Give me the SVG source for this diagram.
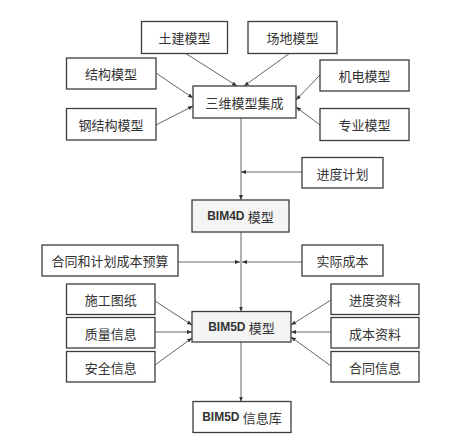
<svg xmlns="http://www.w3.org/2000/svg" width="450" height="442" viewBox="0 0 450 442">
<style>
.box{fill:#ffffff;stroke:#3c3c3c;stroke-width:1.3}
.gbox{fill:#f4f4f4;stroke:#3c3c3c;stroke-width:1.3}
.t{font-family:"Noto Sans CJK SC","Noto Sans CJK JP",sans-serif;font-size:13px;fill:#333333;text-anchor:middle;dominant-baseline:central}
.b{font-family:"Liberation Sans","Noto Sans CJK SC",sans-serif;font-size:12px;font-weight:bold;fill:#333333;text-anchor:middle;dominant-baseline:central}
.c{fill:none;stroke:#666666;stroke-width:1;marker-end:url(#ah)}
</style>
<defs>
<marker id="ah" markerUnits="userSpaceOnUse" markerWidth="5" markerHeight="5" viewBox="0 0 5 5" refX="5" refY="2.5" orient="auto">
<path d="M0,0.5 L5,2.5 L0,4.5 Z" fill="#333333"/>
</marker>
</defs>
<rect width="450" height="442" fill="#ffffff"/>
<g id="connectors">
<line class="c" x1="185" y1="53" x2="237" y2="86"/>
<line class="c" x1="290" y1="53" x2="244" y2="86"/>
<line class="c" x1="156" y1="73" x2="193" y2="98"/>
<line class="c" x1="156" y1="125" x2="193" y2="106"/>
<line class="c" x1="320" y1="75" x2="296" y2="100"/>
<line class="c" x1="320" y1="125" x2="296" y2="107"/>
<line class="c" x1="241" y1="118" x2="241" y2="200"/>
<line class="c" x1="302" y1="172" x2="241" y2="172"/>
<line class="c" x1="241" y1="232" x2="241" y2="311.5"/>
<line class="c" x1="178" y1="262" x2="240" y2="262"/>
<line class="c" x1="302" y1="262" x2="242" y2="262"/>
<line class="c" x1="155" y1="301" x2="192" y2="325"/>
<line class="c" x1="155" y1="332" x2="192" y2="332"/>
<line class="c" x1="155" y1="365" x2="192" y2="338"/>
<line class="c" x1="331" y1="300" x2="291" y2="325"/>
<line class="c" x1="331" y1="332" x2="291" y2="332"/>
<line class="c" x1="331" y1="366" x2="291" y2="337"/>
<line class="c" x1="241" y1="342" x2="241" y2="401.5"/>
</g>
<g id="n-tujian"><rect class="box" x="141.5" y="21.5" width="86" height="32"/><text class="t" x="184.5" y="37.5">土建模型</text></g>
<g id="n-changdi"><rect class="box" x="248" y="21.5" width="89" height="32"/><text class="t" x="292.5" y="37.5">场地模型</text></g>
<g id="n-jiegou"><rect class="box" x="66.5" y="58" width="89.5" height="31"/><text class="t" x="111" y="73.5">结构模型</text></g>
<g id="n-jidian"><rect class="box" x="320" y="60" width="89" height="31"/><text class="t" x="364.5" y="75.5">机电模型</text></g>
<g id="n-sanwei"><rect class="box" x="193" y="86" width="103" height="32"/><text class="t" x="244.5" y="102">三维模型集成</text></g>
<g id="n-gangjiegou"><rect class="box" x="66.5" y="108.5" width="89.5" height="31.5"/><text class="t" x="111" y="124.5">钢结构模型</text></g>
<g id="n-zhuanye"><rect class="box" x="320" y="108.5" width="89" height="32"/><text class="t" x="364.5" y="124.5">专业模型</text></g>
<g id="n-jindu"><rect class="box" x="302" y="157.5" width="81" height="30.5"/><text class="t" x="342.5" y="173">进度计划</text></g>
<g id="n-bim4d"><rect class="gbox" x="192" y="200" width="97" height="32"/><text class="b" x="240.5" y="216">BIM4D <tspan style="font-family:'Noto Sans CJK SC',sans-serif;font-weight:normal;font-size:13px">模型</tspan></text></g>
<g id="n-hetong"><rect class="box" x="42" y="245" width="136" height="31"/><text class="t" x="110" y="260.5">合同和计划成本预算</text></g>
<g id="n-shiji"><rect class="box" x="302" y="245" width="81" height="31"/><text class="t" x="342.5" y="260.5">实际成本</text></g>
<g id="n-shigong"><rect class="box" x="66.5" y="284" width="88.5" height="30.5"/><text class="t" x="110.75" y="299.5">施工图纸</text></g>
<g id="n-zhiliang"><rect class="box" x="66.5" y="317.5" width="88.5" height="30.5"/><text class="t" x="110.75" y="333">质量信息</text></g>
<g id="n-anquan"><rect class="box" x="66.5" y="351.5" width="88.5" height="30.5"/><text class="t" x="110.75" y="367">安全信息</text></g>
<g id="n-jinduziliao"><rect class="box" x="331" y="284" width="88" height="30.5"/><text class="t" x="375" y="299.5">进度资料</text></g>
<g id="n-chengben"><rect class="box" x="331" y="317.5" width="88" height="30.5"/><text class="t" x="375" y="333">成本资料</text></g>
<g id="n-hetongxinxi"><rect class="box" x="331" y="351.5" width="88" height="30.5"/><text class="t" x="375" y="367">合同信息</text></g>
<g id="n-bim5d"><rect class="gbox" x="192" y="311.5" width="99" height="30.5"/><text class="b" x="241.5" y="327">BIM5D <tspan style="font-family:'Noto Sans CJK SC',sans-serif;font-weight:normal;font-size:13px">模型</tspan></text></g>
<g id="n-bim5dku"><rect class="box" x="193" y="401.5" width="98" height="31"/><text class="b" x="242" y="417">BIM5D <tspan style="font-family:'Noto Sans CJK SC',sans-serif;font-weight:normal;font-size:13px">信息库</tspan></text></g>
</svg>
